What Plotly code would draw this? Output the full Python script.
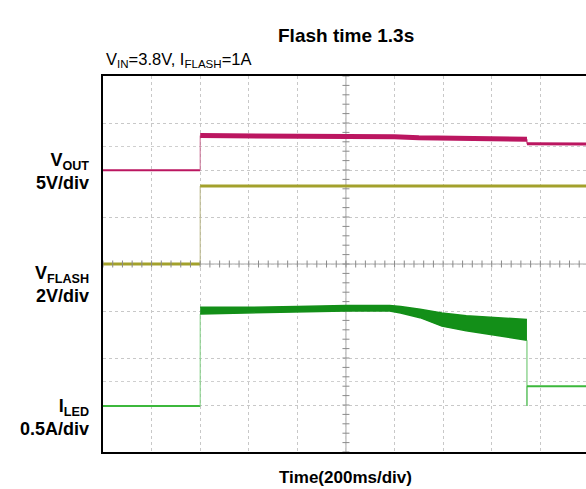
import plotly.graph_objects as go

# ---- channel settings (scope scales and ground positions, in divisions from bottom)
N_XDIV, N_YDIV = 10, 8
T_PER_DIV = 200.0          # ms/div
VOUT_PER_DIV, VOUT_GND = 5.0, 5.235
VFL_PER_DIV, VFL_GND = 2.0, 4.0
ILED_PER_DIV, ILED_GND = 0.5, 0.978
T_END = 1988.0             # visible time window (ms)

# ---- VOUT (V)
vout_pre_t = [0, 400]
vout_pre = [3.80, 3.80]
vout_flash_t = [400, 700, 1000, 1200, 1300, 1500, 1745]
vout_flash = [7.49, 7.47, 7.42, 7.36, 7.26, 7.16, 7.09]
vout_torch_t = [1745, 1988]
vout_torch = [6.62, 6.58]

# ---- VFLASH (V)
vfl_pre_t = [0, 400]
vfl_pre = [0.0, 0.0]
vfl_on_t = [400, 1988]
vfl_on = [3.32, 3.32]

# ---- ILED (A): off, flash ripple envelope, torch
iled_pre_t = [0, 400]
iled_pre = [0.0, 0.0]
iled_flash_t = [400, 600, 800, 1000, 1180, 1225, 1305, 1395, 1495, 1600, 1680, 1745]
iled_flash_hi = [1.05, 1.05, 1.06, 1.07, 1.07, 1.06, 1.03, 0.99, 0.96, 0.94, 0.93, 0.92]
iled_flash_lo = [0.98, 0.99, 1.00, 1.01, 1.01, 0.99, 0.94, 0.85, 0.80, 0.76, 0.73, 0.70]
iled_end_t = [1745, 1745, 1745]
iled_end = [0.70, 0.0, 0.21]
iled_torch_t = [1745, 1988]
iled_torch = [0.21, 0.21]

C_VOUT = "#bb1660"
C_VFL = "#a3a12c"
C_ILED = "#138f18"
C_ILED_THIN = "#3cb83c"
FONT = "Liberation Sans, Arial, sans-serif"

fig = go.Figure()

def line(x, y, color, width, axis):
    fig.add_trace(go.Scatter(x=x, y=y, mode="lines", yaxis=axis,
                             line=dict(color=color, width=width),
                             hoverinfo="skip", showlegend=False))

# VOUT
line(vout_pre_t, vout_pre, C_VOUT, 2, "y2")
line([vout_pre_t[-1], vout_flash_t[0]], [vout_pre[-1], vout_flash[0]], "#c86a90", 1, "y2")
line(vout_flash_t, vout_flash, C_VOUT, 5, "y2")
line([vout_flash_t[-1], vout_torch_t[0]], [vout_flash[-1], vout_torch[0]], C_VOUT, 1, "y2")
line(vout_torch_t, vout_torch, C_VOUT, 3, "y2")

# VFLASH
line(vfl_pre_t, vfl_pre, C_VFL, 3, "y")
line([vfl_pre_t[-1], vfl_on_t[0]], [vfl_pre[-1], vfl_on[0]], "#b8b684", 1, "y")
line(vfl_on_t, vfl_on, C_VFL, 3, "y")

# ILED
line(iled_pre_t, iled_pre, C_ILED_THIN, 2, "y3")
line([iled_pre_t[-1], iled_flash_t[0]], [iled_pre[-1], iled_flash_lo[0]], "#7fcf82", 1, "y3")
fig.add_trace(go.Scatter(x=iled_flash_t, y=iled_flash_hi, mode="lines", yaxis="y3",
                         line=dict(color=C_ILED, width=1.5),
                         hoverinfo="skip", showlegend=False))
fig.add_trace(go.Scatter(x=iled_flash_t, y=iled_flash_lo, mode="lines", yaxis="y3",
                         line=dict(color=C_ILED, width=1.5), fill="tonexty",
                         fillcolor=C_ILED, hoverinfo="skip", showlegend=False))
line(iled_end_t, iled_end, "#5cc060", 1, "y3")
line(iled_torch_t, iled_torch, C_ILED_THIN, 2, "y3")

# centre crosshair tick marks (every 1/5 division)
tick_x = [i * T_PER_DIV / 5 for i in range(0, int(T_END / (T_PER_DIV / 5)) + 1)]
fig.add_trace(go.Scatter(x=tick_x, y=[0] * len(tick_x), mode="markers", yaxis="y",
                         marker=dict(symbol="line-ns", size=5,
                                     line=dict(color="#8a8a8a", width=1)),
                         hoverinfo="skip", showlegend=False))
tick_y = [(-N_YDIV / 2 + i / 5) * VFL_PER_DIV for i in range(0, N_YDIV * 5 + 1)]
fig.add_trace(go.Scatter(x=[N_XDIV / 2 * T_PER_DIV] * len(tick_y), y=tick_y,
                         mode="markers", yaxis="y",
                         marker=dict(symbol="line-ew", size=5,
                                     line=dict(color="#8a8a8a", width=1)),
                         hoverinfo="skip", showlegend=False))

y_lo = -VFL_GND * VFL_PER_DIV
y_hi = (N_YDIV - VFL_GND) * VFL_PER_DIV
shapes = [
    dict(type="line", xref="x", yref="y", x0=1000, x1=1000, y0=y_lo, y1=y_hi,
         line=dict(color="#a8a8a8", width=1), layer="below"),
    dict(type="line", xref="x", yref="y", x0=0, x1=T_END, y0=0, y1=0,
         line=dict(color="#a8a8a8", width=1), layer="below"),
]
for yv in (5.0, -5.0):
    shapes.append(dict(type="line", xref="x", yref="y", x0=0, x1=T_END, y0=yv, y1=yv,
                       line=dict(color="#cfcfcf", width=1, dash="dot"), layer="below"))

W, H = 586, 489
ML, MT, MB = 103, 76, 37
PH = H - MT - MB
PW = W - ML


def px_x(px):
    return (px - ML) / PW


def px_y(py):
    return (H - MB - py) / PH


def note(text, x, y, size, xanchor="center", align="center"):
    return dict(text=text, x=px_x(x), y=px_y(y), xref="paper", yref="paper",
                xanchor=xanchor, yanchor="middle", align=align, showarrow=False,
                font=dict(size=size, color="black", family=FONT))


annotations = [
    note("<b>Flash time 1.3s</b>", 346, 35, 19),
    note("<b>Time(200ms/div)</b>", 345, 478, 17),
    note("V<sub>IN</sub>=3.8V, I<sub>FLASH</sub>=1A", 104, 60, 16.5, xanchor="left",
         align="left"),
    note("<b>V<sub>OUT</sub><br>5V/div</b>", 91, 171, 18, xanchor="right", align="right"),
    note("<b>V<sub>FLASH</sub><br>2V/div</b>", 91, 284, 18, xanchor="right", align="right"),
    note("<b>I<sub>LED</sub><br>0.5A/div</b>", 91, 417, 18, xanchor="right", align="right"),
]

grid = dict(showgrid=True, gridcolor="#c8c8c8", gridwidth=1, griddash="dot",
            zeroline=False, showticklabels=False, ticks="")

fig.update_layout(
    width=W, height=H,
    margin=dict(l=ML, r=0, t=MT, b=MB, pad=0),
    paper_bgcolor="white", plot_bgcolor="white",
    xaxis=dict(range=[0, T_END], dtick=T_PER_DIV, tick0=0, showline=True, mirror=True,
               linecolor="black", linewidth=2, **grid),
    yaxis=dict(range=[y_lo, y_hi], dtick=VFL_PER_DIV, tick0=0, showline=True,
               mirror=False, linecolor="black", linewidth=2, **grid),
    yaxis2=dict(overlaying="y", visible=False,
                range=[-VOUT_GND * VOUT_PER_DIV, (N_YDIV - VOUT_GND) * VOUT_PER_DIV]),
    yaxis3=dict(overlaying="y", visible=False,
                range=[-ILED_GND * ILED_PER_DIV, (N_YDIV - ILED_GND) * ILED_PER_DIV]),
    shapes=shapes,
    annotations=annotations,
    font=dict(family=FONT),
)

fig.write_html("out.html")
